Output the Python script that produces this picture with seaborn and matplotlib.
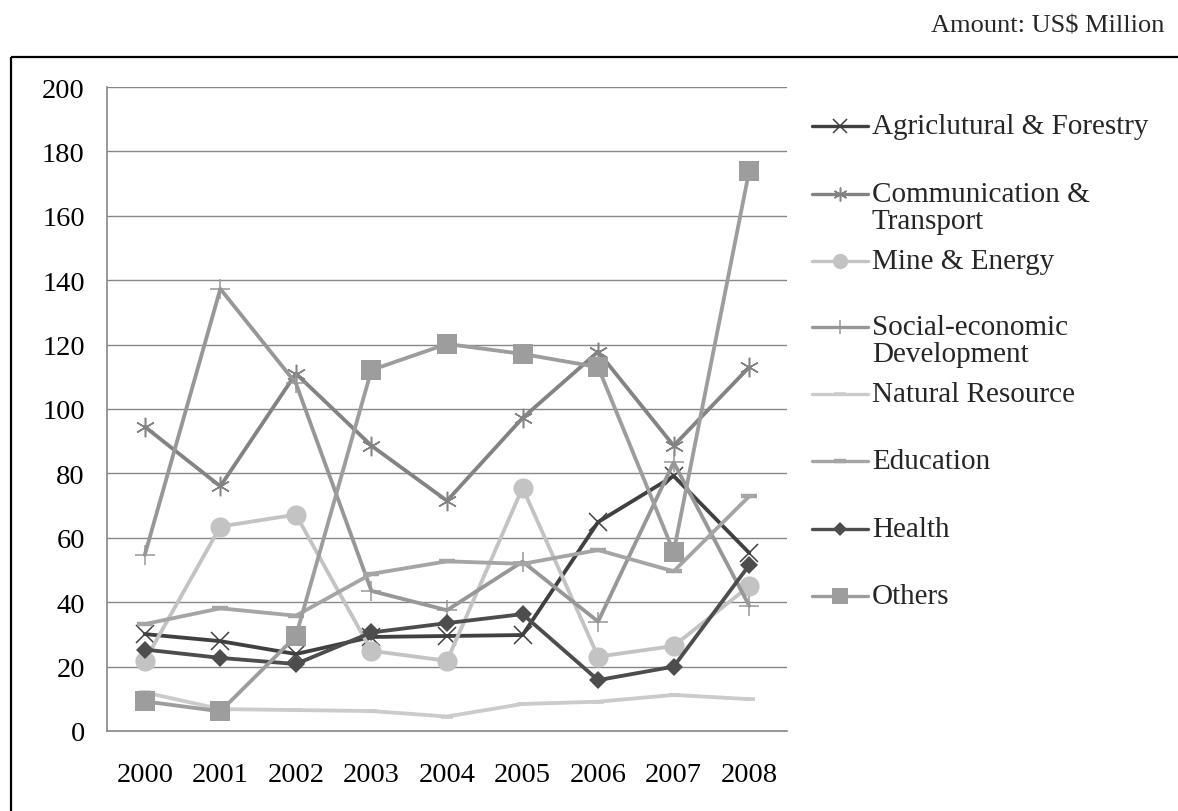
import matplotlib
matplotlib.use("Agg")
import matplotlib.pyplot as plt
import seaborn as sns
import pandas as pd
from matplotlib.patches import Rectangle

years = ["2000", "2001", "2002", "2003", "2004", "2005", "2006", "2007", "2008"]

agriculture = [30.1, 27.9, 23.9, 29.2, 29.5, 29.8, 64.9, 79.2, 55.3]
communication = [94.5, 76.0, 111.0, 88.6, 71.5, 97.2, 117.8, 88.6, 113.0]
mine_energy = [21.8, 63.5, 67.2, 24.9, 21.8, 75.5, 23.1, 26.4, 45.0]
social_economic = [54.7, 137.3, 108.0, 43.5, 37.5, 52.6, 34.0, 83.4, 38.9]
natural_resource = [12.0, 6.8, 6.5, 6.2, 4.5, 8.4, 9.1, 11.2, 9.9]
education = [33.2, 38.1, 35.8, 48.8, 52.7, 51.9, 56.2, 49.6, 72.9]
health = [25.3, 22.7, 20.8, 30.6, 33.5, 36.3, 15.8, 20.0, 51.5]
others = [9.2, 6.1, 29.4, 112.1, 120.2, 117.1, 113.0, 55.6, 174.0]

sectors = ["Agriclutural & Forestry", "Communication &\nTransport", "Mine & Energy",
           "Social-economic\nDevelopment", "Natural Resource", "Education",
           "Health", "Others"]
series = [agriculture, communication, mine_energy, social_economic,
          natural_resource, education, health, others]

# line / marker styling per sector: (chart marker size, legend marker size)
styles = [
    dict(color="#404040", marker="x", ms=13, lms=10, mew=1.1),
    dict(color="#838383", marker=(6, 2, 0), ms=14, lms=10, mew=1.1),
    dict(color="#c3c3c3", marker="o", ms=14.5, lms=11, mew=0),
    dict(color="#979797", marker="+", ms=15, lms=10, mew=1.1),
    dict(color="#cbcbcb", marker="_", ms=8, lms=8, mew=2.6),
    dict(color="#a5a5a5", marker="_", ms=12, lms=8, mew=3.2),
    dict(color="#4d4d4d", marker="D", ms=9.5, lms=7.5, mew=0),
    dict(color="#9d9d9d", marker="s", ms=14, lms=11, mew=0),
]

df = pd.DataFrame({
    "Year": years * len(sectors),
    "Amount": [v for s in series for v in s],
    "Sector": [name for name in sectors for _ in years],
})

sns.set_style("white")
plt.rcParams["font.family"] = ["Liberation Serif", "DejaVu Serif"]

W, H = 1178, 812
fig = plt.figure(figsize=(W / 100, H / 100), dpi=100)
ax = fig.add_axes([107 / W, 1 - 732 / H, (787 - 107) / W, (732 - 88) / H])

for name, st in zip(sectors, styles):
    sub = df[df["Sector"] == name]
    sns.lineplot(data=sub, x="Year", y="Amount", ax=ax, color=st["color"],
                 lw=2.75, marker=st["marker"], markersize=st["ms"],
                 markeredgewidth=st["mew"], markeredgecolor=st["color"],
                 markerfacecolor=st["color"], legend=False, zorder=3)

ax.set_xlim(-0.5, len(years) - 0.5)
ax.set_ylim(0, 200)
ax.set_yticks(range(0, 201, 20))
ax.set_xlabel("")
ax.set_ylabel("")
ax.yaxis.grid(True, color="#878787", lw=1.0)
ax.xaxis.grid(False)
for side in ("top", "right"):
    ax.spines[side].set_visible(False)
for side in ("left", "bottom"):
    ax.spines[side].set_color("#878787")
    ax.spines[side].set_linewidth(1.2)
ax.tick_params(axis="y", length=0, pad=16, labelsize=20.5, labelcolor="black")
ax.tick_params(axis="x", length=0, pad=22, labelsize=20.5, labelcolor="black")

# overlay canvas in pixel units for the legend, header and frame
ov = fig.add_axes([0, 0, 1, 1], facecolor="none")
ov.set_xlim(0, W)
ov.set_ylim(H, 0)
ov.axis("off")

ov.add_patch(Rectangle((11, 58), W + 50, H + 50, fill=False, ec="black", lw=1.6))
ov.text(1164, 26, "Amount: US$ Million", ha="right", va="center", fontsize=19)

legend_y = [127, 195, 262, 328, 395, 462, 530, 597]
for name, st, y in zip(sectors, styles, legend_y):
    ov.plot([812, 840, 868], [y, y, y], color=st["color"], lw=2.4,
            marker=st["marker"], markevery=[1], markersize=st["lms"],
            markeredgewidth=st["mew"], markeredgecolor=st["color"],
            markerfacecolor=st["color"])
    lines = name.split("\n")
    for k, line in enumerate(lines):
        ov.text(872, y + 27 * k, line, ha="left", va="center", fontsize=21)

fig.savefig("out.png", dpi=100)
